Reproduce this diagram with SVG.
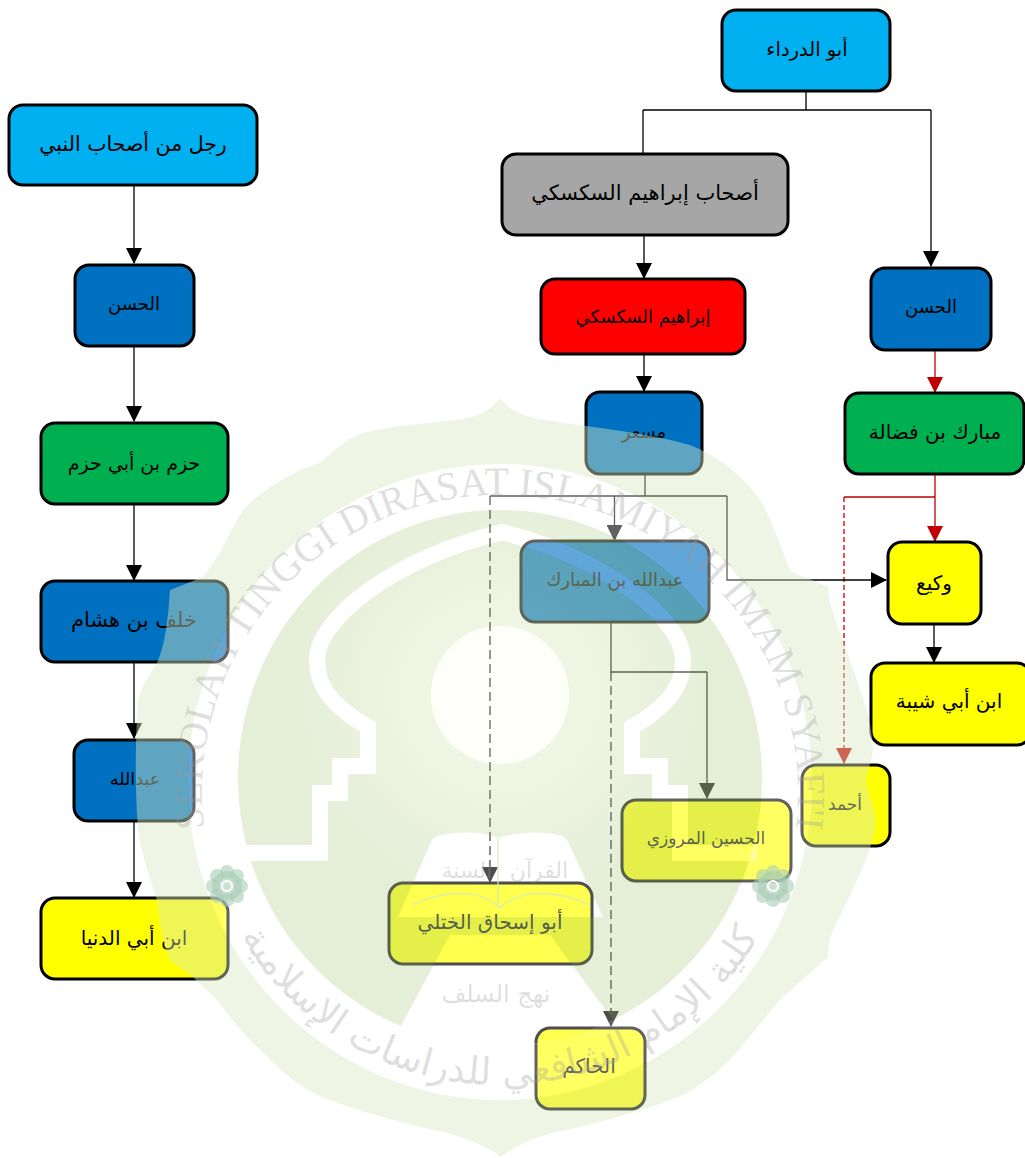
<svg xmlns="http://www.w3.org/2000/svg" xmlns:xlink="http://www.w3.org/1999/xlink" width="1025" height="1158" viewBox="0 0 1025 1158">
<style>
.n{stroke:#000;stroke-width:3}
.cy{fill:#00b0f0}.bl{fill:#0070c0}.gr{fill:#00b050}.ye{fill:#ffff00}.gy{fill:#a6a6a6}.rd{fill:#ff0000}
text{font-family:"DejaVu Sans",sans-serif;text-anchor:middle;direction:rtl;fill:#000}
.c{fill:none;stroke:#000;stroke-width:1.3}
.r{stroke:#c00000}
.d{stroke-dasharray:9 5}
.dr{stroke-dasharray:5 3}
.ah{marker-end:url(#a)}.ar{marker-end:url(#b)}
.wm{font-family:"Liberation Serif",serif;direction:ltr;fill:#999;fill-opacity:.33}
.wa{fill:#999;fill-opacity:.33}
</style>
<defs>
<marker id="a" markerUnits="userSpaceOnUse" markerWidth="16" markerHeight="16" refX="15" refY="8" orient="auto"><path d="M0,0L16,8L0,16Z" fill="#000"/></marker>
<marker id="b" markerUnits="userSpaceOnUse" markerWidth="16" markerHeight="16" refX="15" refY="8" orient="auto"><path d="M0,0L16,8L0,16Z" fill="#c00000"/></marker>
<path id="arcTop" d="M215,880A298,298 0 1 1 785,880"/>
<path id="arcBottom" d="M225,905A300,300 0 0 0 775,905"/>
<path id="dome" d="M243,853H320V793H340V766H368V727C330,705 317,685 317,660C317,620 390,560 502,532C610,560 683,620 683,660C683,685 670,705 632,727V766H660V793H680V853H757"/>
<path id="book" d="M432,840L437,836C460,830 485,832 498,838C515,832 540,830 563,836L567,840L603,917H398Z"/>
<path id="low" d="M450,935H550L613,1020Q500,1070 397,1033Z"/>
<radialGradient id="g" gradientUnits="userSpaceOnUse" cx="500" cy="695" r="260"><stop offset=".25" stop-color="#ddeac2"/><stop offset=".8" stop-color="#c4daa6"/></radialGradient>
<mask id="hole" maskUnits="userSpaceOnUse" x="0" y="0" width="1025" height="1158"><rect width="1025" height="1158" fill="#fff"/><use href="#dome" xlink:href="#dome" fill="none" stroke="#000" stroke-width="16"/><circle cx="500" cy="695" r="69" fill="#000"/><use href="#book" xlink:href="#book" fill="#000"/><use href="#low" xlink:href="#low" fill="#000"/></mask>
</defs>

<g id="connectors">
<path class="c" d="M806,91V110.500M643,110H931"/>
<path class="c" d="M643,110V154"/>
<path class="c ah" d="M931,110V266"/>
<path class="c ah" d="M134,185V263"/>
<path class="c ah" d="M134,346V421"/>
<path class="c ah" d="M134,504V580"/>
<path class="c ah" d="M134,662V738"/>
<path class="c ah" d="M134,821V897"/>
<path class="c ah" d="M644,235V278"/>
<path class="c ah" d="M644,354V391"/>
<path class="c r ar" d="M935,350V392"/>
<path class="c r ar" d="M935,474V541"/>
<path class="c r" style="stroke-width:1.6" d="M935,497H844"/>
<path class="c r dr ar" d="M844,497V763"/>
<path class="c" d="M645,474V496M490,496H727"/>
<path class="c d ah" d="M490,496V882"/>
<path class="c ah" d="M614.500,496V540"/>
<path class="c ah" d="M727,496V580H886"/>
<path class="c" d="M611,622V672H707"/>
<path class="c ah" d="M707,672V798"/>
<path class="c d ah" d="M611,672V1026"/>
<path class="c ah" d="M934,624V662"/>
</g>

<g id="n1"><rect class="n cy" x="722" y="10" width="168" height="81" rx="14"/><text font-size="19.500" x="807" y="56">أبو الدرداء</text></g>
<g id="n2"><rect class="n cy" x="9" y="105" width="248" height="80" rx="14"/><text font-size="20.500" x="133" y="151">رجل من أصحاب النبي</text></g>
<g id="n3"><rect class="n bl" x="75" y="265" width="119" height="81" rx="14"/><text font-size="18" x="134" y="310">الحسن</text></g>
<g id="n4"><rect class="n gr" x="41" y="423" width="187" height="81" rx="14"/><text font-size="19" x="134" y="470">حزم بن أبي حزم</text></g>
<g id="n5"><rect class="n bl" x="41" y="581" width="187" height="81" rx="14"/><text font-size="21" x="134" y="627">خلف بن هشام</text></g>
<g id="n6"><rect class="n bl" x="74" y="740" width="120" height="81" rx="14"/><text font-size="17.500" x="135" y="785">عبدالله</text></g>
<g id="n7"><rect class="n ye" x="41" y="898" width="187" height="81" rx="14"/><text font-size="20" x="134" y="945">ابن أبي الدنيا</text></g>
<g id="n8"><rect class="n gy" x="502" y="154" width="286" height="81" rx="14"/><text font-size="21" x="645" y="200">أصحاب إبراهيم السكسكي</text></g>
<g id="n9"><rect class="n rd" x="541" y="279" width="204" height="75" rx="14"/><text font-size="18" x="643" y="323">إبراهيم السكسكي</text></g>
<g id="n10"><rect class="n bl" x="586" y="392" width="116" height="82" rx="14"/><text font-size="18" x="644" y="438">مسعر</text></g>
<g id="n11"><rect class="n bl" x="871" y="268" width="120" height="82" rx="14"/><text font-size="18" x="931" y="313">الحسن</text></g>
<g id="n12"><rect class="n gr" x="845" y="393" width="179" height="81" rx="14"/><text font-size="20" x="935" y="439">مبارك بن فضالة</text></g>
<g id="n13"><rect class="n ye" x="888" y="542" width="93" height="82" rx="14"/><text font-size="20" x="934" y="590">وكيع</text></g>
<g id="n14"><rect class="n ye" x="871" y="663" width="160" height="82" rx="14"/><text font-size="20" x="949" y="708">ابن أبي شيبة</text></g>
<g id="n15"><rect class="n bl" x="521" y="541" width="188" height="81" rx="14"/><text font-size="18" x="615" y="586">عبدالله بن المبارك</text></g>
<g id="n16"><rect class="n ye" x="802" y="765" width="88" height="81" rx="14"/><text font-size="17" x="845" y="810">أحمد</text></g>
<g id="n17"><rect class="n ye" x="622" y="800" width="169" height="81" rx="14"/><text font-size="17" x="706" y="844">الحسين المروزي</text></g>
<g id="n18"><rect class="n ye" x="389" y="883" width="203" height="81" rx="14"/><text font-size="20" x="490" y="929">أبو إسحاق الختلي</text></g>
<g id="n19"><rect class="n ye" x="536" y="1028" width="109" height="81" rx="14"/><text font-size="20" x="589" y="1073">الحاكم</text></g>

<g id="watermark">
<path fill="#d8e8c1" fill-opacity=".44" fill-rule="evenodd" d="M500,398C490,412 475,418 455,420C420,424 390,426 363,433C345,440 332,452 320,463C290,472 262,490 243,510C228,535 218,560 203,577L170,590C168,620 165,645 157,663C150,675 142,685 138,700C135,745 135,790 138,830C142,855 150,880 157,900C160,925 163,945 170,960L193,977C200,985 210,992 217,1000C232,1020 248,1040 264,1053C282,1072 300,1088 322,1097C360,1112 400,1122 434,1130C460,1135 485,1145 501,1157C515,1145 540,1135 566,1130C600,1122 640,1112 678,1097C700,1088 720,1070 736,1053C752,1035 768,1012 783,997L810,973L828,957C828,945 830,938 833,930C845,905 858,880 867,857C873,840 876,830 875,817C874,805 868,795 866,780C868,770 872,760 873,750C872,725 866,705 860,690C853,665 840,635 833,613C830,603 828,595 828,587C810,578 795,575 790,570C780,545 772,520 760,500C740,472 715,455 690,445C645,432 595,428 545,420C525,417 510,412 500,398ZM188,782A312,318 0 1 0 812,782A312,318 0 1 0 188,782Z"/>
<path fill="#fff" fill-opacity=".38" fill-rule="evenodd" d="M188,782A312,318 0 1 0 812,782A312,318 0 1 0 188,782ZM238,778A262,268 0 1 0 762,778A262,268 0 1 0 238,778Z"/>
<ellipse cx="500" cy="778" rx="262" ry="268" fill="url(#g)" fill-opacity=".44" mask="url(#hole)"/>
<use href="#dome" xlink:href="#dome" fill="none" stroke="#fff" stroke-opacity=".38" stroke-width="16"/>
<circle cx="500" cy="695" r="69" fill="#fffff0" fill-opacity=".38"/>
<use href="#book" xlink:href="#book" fill="#fff" fill-opacity=".3"/>
<use href="#low" xlink:href="#low" fill="#fff" fill-opacity=".3"/>
<path fill="none" stroke="#d8e8c1" stroke-opacity=".6" stroke-width="2" d="M498,838V905M412,905C445,890 480,888 500,908C520,888 555,890 590,905"/>
<g fill="#a8cdb5" fill-opacity=".6">
<circle cx="227" cy="886" r="15"/><circle cx="227" cy="872" r="7"/><circle cx="227" cy="900" r="7"/><circle cx="213" cy="886" r="7"/><circle cx="241" cy="886" r="7"/><circle cx="217" cy="876" r="7"/><circle cx="237" cy="876" r="7"/><circle cx="217" cy="896" r="7"/><circle cx="237" cy="896" r="7"/>
<circle cx="773" cy="886" r="15"/><circle cx="773" cy="872" r="7"/><circle cx="773" cy="900" r="7"/><circle cx="759" cy="886" r="7"/><circle cx="787" cy="886" r="7"/><circle cx="763" cy="876" r="7"/><circle cx="783" cy="876" r="7"/><circle cx="763" cy="896" r="7"/><circle cx="783" cy="896" r="7"/>
</g>
<circle cx="227" cy="886" r="5" fill="none" stroke="#fff" stroke-width="2"/>
<circle cx="773" cy="886" r="5" fill="none" stroke="#fff" stroke-width="2"/>
<text class="wm" font-size="40"><textPath href="#arcTop" xlink:href="#arcTop" startOffset="50%">SEKOLAH TINGGI DIRASAT ISLAMIYAH IMAM SYAFI'I</textPath></text>
<text class="wa" font-size="38"><textPath href="#arcBottom" xlink:href="#arcBottom" startOffset="50%">كلية الإمام الشافعي للدراسات الإسلامية</textPath></text>
<text class="wa" font-size="22" x="539" y="878">القرآن</text>
<text class="wa" font-size="22" x="467" y="878">السنة</text>
<text class="wa" font-size="24" x="496" y="1002">نهج السلف</text>
</g>
</svg>
